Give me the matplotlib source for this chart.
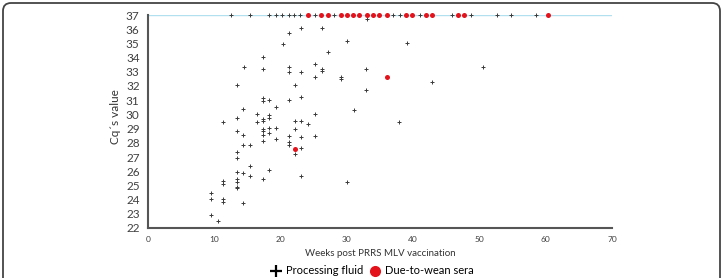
import matplotlib
matplotlib.use('Agg')
import matplotlib.pyplot as plt
from matplotlib.lines import Line2D
from matplotlib.patches import FancyBboxPatch

plt.rcParams['font.family'] = ['Lato', 'DejaVu Sans']

# processing fluid samples (weeks post vaccination, Cq)
pf_weeks = [12.5, 15.4, 18.2, 19.3, 20.2, 21.2, 22.1, 23.0, 25.2, 28.1, 36.9, 38.0,
            41.0, 45.8, 48.8, 52.7, 54.7, 58.6, 33.0,
            23.1, 26.2, 21.3, 20.3, 30.0, 27.2, 17.3, 14.5, 17.3, 21.3, 21.3, 23.1,
            25.2, 26.2, 26.2, 25.2, 29.1, 29.1, 13.4, 22.2, 17.3, 17.3, 18.3, 21.3,
            23.1, 14.4, 16.4, 19.3, 25.2, 13.4, 17.4, 17.4, 18.3, 18.3, 11.3, 16.4,
            22.2, 23.1, 24.2, 13.4, 17.4, 17.4, 18.3, 19.3, 22.2, 14.4, 17.4, 18.3,
            21.3, 23.1, 25.2, 19.3, 17.4, 14.4, 15.4, 21.3, 21.3, 23.1, 22.2, 13.4,
            13.4, 15.4, 18.3, 13.4, 14.4, 15.4, 17.4, 23.1, 11.3, 11.3, 13.4, 13.4,
            13.4, 13.4, 30.0, 9.5, 9.5, 11.3, 11.3, 14.4, 9.5, 10.5,
            39.0, 32.9, 42.8, 32.9, 50.6, 31.1, 37.8]
pf_cq = [37, 37, 37, 37, 37, 37, 37, 37, 37, 37, 37, 37,
         37, 37, 37, 37, 37, 37, 36.7,
         36.06, 36.06, 35.7, 34.96, 35.14, 34.36, 34.05, 33.33, 33.23, 33.32, 32.97, 32.97,
         33.53, 33.23, 33.04, 32.65, 32.5, 32.6, 32.05, 32.07, 31.15, 30.97, 31.04, 31.04,
         31.22, 30.35, 30.06, 30.54, 30.06, 29.76, 29.55, 29.65, 29.96, 29.76, 29.45, 29.45,
         29.55, 29.55, 29.34, 28.86, 28.95, 28.85, 29.07, 29.07, 28.95, 28.58, 28.58, 28.67,
         28.49, 28.39, 28.49, 28.27, 28.15, 27.87, 27.87, 28.03, 27.85, 27.64, 27.23, 27.35,
         26.95, 26.38, 26.05, 25.94, 25.84, 25.66, 25.46, 25.66, 25.34, 25.11, 25.46, 25.23,
         24.85, 24.92, 25.25, 24.49, 24.05, 24.05, 23.86, 23.77, 22.9, 22.49,
         35.02, 33.23, 32.26, 31.71, 33.32, 30.28, 29.45]

# due-to-wean sera
dw_weeks = [24.1, 26.1, 27.1, 29.1, 30.0, 30.9, 31.9, 33.0, 33.9, 34.9, 36.0, 38.9,
            39.9, 41.9, 42.9, 46.8, 47.7, 60.4, 22.2, 36.0]
dw_cq = [37, 37, 37, 37, 37, 37, 37, 37, 37, 37, 37, 37,
         37, 37, 37, 37, 37, 37, 27.54, 32.63]

fig = plt.figure(figsize=(7.24, 2.78), dpi=100)
ax = fig.add_axes([148 / 724, 50 / 278, 464 / 724, 213 / 278])

ax.axhline(37, color='#b3e0ee', lw=1, zorder=1)
ax.plot(pf_weeks, pf_cq, ls='none', marker='+', ms=3.3, mew=0.7, color='#3a3a3a',
        clip_on=False, zorder=3)
ax.plot(dw_weeks, dw_cq, ls='none', marker='o', ms=3.6, mew=0, color='#e3121b',
        clip_on=False, zorder=4)

ax.set_xlim(0, 70)
ax.set_ylim(22, 37)
ax.set_xticks(range(0, 71, 10))
ax.set_yticks(range(22, 38))
ax.tick_params(axis='y', length=0, pad=6, labelsize=8.5, labelcolor='#404040')
ax.tick_params(axis='x', length=0, pad=6, labelsize=6, labelcolor='#404040')
for s in ['top', 'right']:
    ax.spines[s].set_visible(False)
for s in ['left', 'bottom']:
    ax.spines[s].set_color('#555555')
    ax.spines[s].set_linewidth(1.5)

ax.set_xlabel('Weeks post PRRS MLV vaccination', fontsize=7, color='#333333', labelpad=4)
fig.text(115 / 724, 0.58, 'Cq´s value', rotation=90, ha='center', va='center',
         fontsize=8.5, color='#333333')

handles = [Line2D([], [], ls='none', marker='+', ms=8, mew=1.6, color='black'),
           Line2D([], [], ls='none', marker='o', ms=8, mew=0, color='#e3121b')]
fig.legend(handles, ['Processing fluid', 'Due-to-wean sera'], loc='center',
           bbox_to_anchor=(372 / 724, 7 / 278), ncol=2, frameon=False, fontsize=8,
           handletextpad=0.4, columnspacing=0.6, handlelength=1.0)

border = FancyBboxPatch((0.03, -0.3), 7.17, 3.05, boxstyle='round,pad=0,rounding_size=0.08',
                        transform=fig.dpi_scale_trans, fill=False, ec='#444444', lw=1.3)
fig.add_artist(border)

fig.savefig('out.png', dpi=100)
